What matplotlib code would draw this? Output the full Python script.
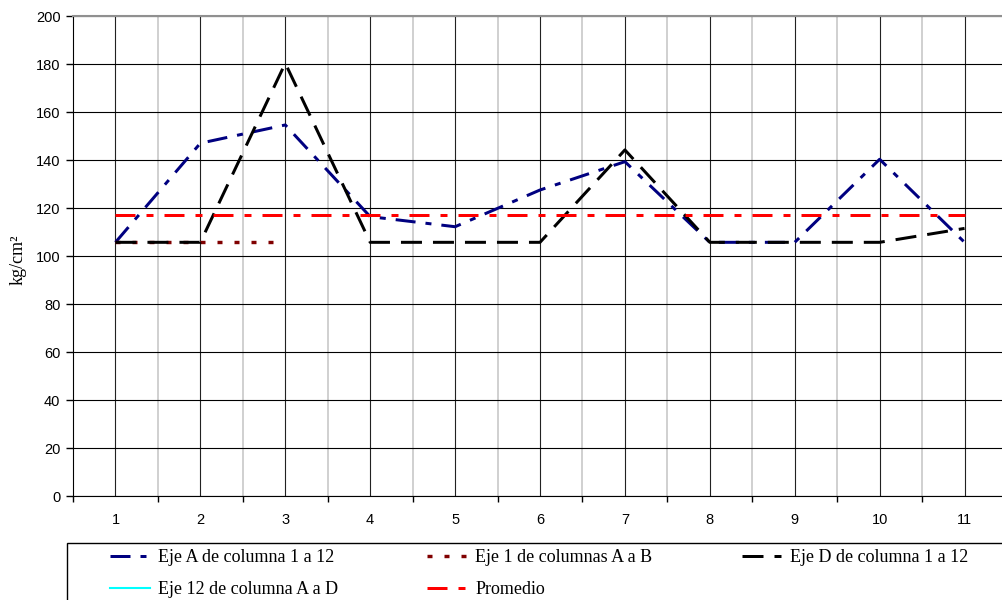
import matplotlib
matplotlib.use("Agg")
import matplotlib.pyplot as plt
from matplotlib.patches import Rectangle

# datos
puntos = [1, 2, 3, 4, 5, 6, 7, 8, 9, 10, 11]
eje_a = [105.7, 147, 154.6, 116.4, 112.2, 127.5, 139.3, 105.7, 105.7, 140.3, 105.7]
puntos_1 = [1, 2, 3]
eje_1 = [105.7, 105.7, 105.7]
eje_d = [105.7, 105.7, 180.3, 105.7, 105.7, 105.7, 144.2, 105.7, 105.7, 105.7, 111.5]
puntos_12 = []
eje_12 = []
promedio = [117.1, 117.1, 117.1, 117.1, 117.1, 117.1, 117.1, 117.1, 117.1, 117.1, 117.1]
yticks = [0, 20, 40, 60, 80, 100, 120, 140, 160, 180, 200]

plt.rcParams["lines.scale_dashes"] = False
px = 0.72  # puntos por pixel a 100 dpi

fig = plt.figure(figsize=(10.03, 6), dpi=100)
ax = fig.add_axes([73 / 1003, 104 / 600, 934 / 1003, 480 / 600])

lw = 3 * px
ax.plot(puntos, eje_a, color="#000080", lw=lw,
        dashes=(20 * px, 10 * px, 6 * px, 10 * px), label="Eje A de columna 1 a 12")
ax.plot(puntos_1, eje_1, color="#800000", lw=3.4 * px,
        dashes=(5 * px, 12 * px), label="Eje 1 de columnas A a B")
ax.plot(puntos, eje_d, color="black", lw=lw,
        dashes=(21 * px, 11 * px), label="Eje D de columna 1 a 12")
ax.plot(puntos_12, eje_12, color="#00ffff", lw=1.5, label="Eje 12 de columna A a D")
ax.plot(puntos, promedio, color="red", lw=lw,
        dashes=(20 * px, 11 * px, 7 * px, 11 * px), label="Promedio")

ax.set_xlim(0.5, 11.5)
ax.set_ylim(0, 200)
ax.set_yticks(yticks)
ax.set_xticks(puntos)
ax.set_xticks([p - 0.5 for p in puntos] + [11.5], minor=True)

ax.grid(axis="y", which="major", color="black", lw=0.8)
ax.grid(axis="x", which="major", color="#222222", lw=0.8)
ax.grid(axis="x", which="minor", color="#c8c8c8", lw=1.2)
ax.set_axisbelow(True)

ax.tick_params(axis="x", which="major", length=0, pad=12.5, labelsize=10.5)
ax.tick_params(axis="x", which="minor", length=4, direction="out", width=1)
ax.tick_params(axis="y", length=5, width=1, pad=4, labelsize=10.5)
for lab in ax.get_xticklabels() + ax.get_yticklabels():
    lab.set_fontfamily("Liberation Sans")

ax.spines["right"].set_visible(False)
ax.spines["top"].set_color("#909090")
ax.spines["top"].set_linewidth(1.5)
ax.spines["left"].set_color("black")
ax.spines["bottom"].set_color("black")

fig.text(18 / 1003, 1 - 260 / 600, "kg/cm²", rotation=90, ha="center", va="center",
         fontsize=13, family="Liberation Serif")

# caja de la leyenda
fig.patches.append(Rectangle((67 / 1003, -0.05), 1.0, 1 - 543 / 600 + 0.05,
                             transform=fig.transFigure, fill=False,
                             edgecolor="black", lw=1))

handles, labels = ax.get_legend_handles_labels()
orden = [0, 3, 1, 4, 2]
fig.legend([handles[i] for i in orden], [labels[i] for i in orden],
           loc="upper left", bbox_to_anchor=(110 / 1003, 1 - 549 / 600),
           ncol=3, frameon=False, borderpad=0, borderaxespad=0,
           handlelength=2.2, handletextpad=0.45, columnspacing=4.95,
           labelspacing=0.85, prop={"family": "Liberation Serif", "size": 13})

fig.savefig("out.png", dpi=100)
